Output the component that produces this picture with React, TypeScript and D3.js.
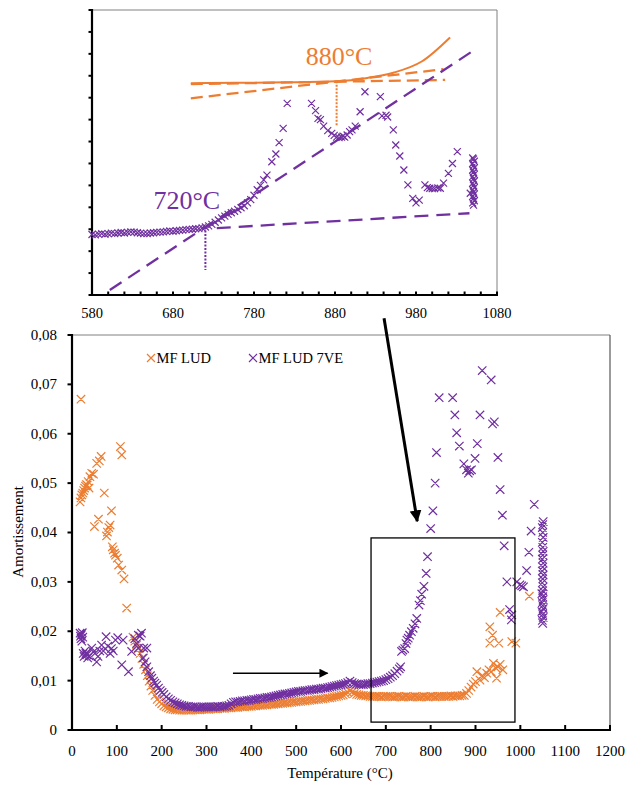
import React from "react";
import * as d3 from "d3";

// ---------- DATA ----------
const xTicks = [0, 100, 200, 300, 400, 500, 600, 700, 800, 900, 1000, 1100, 1200];
const yTicks = [0, 0.01, 0.02, 0.03, 0.04, 0.05, 0.06, 0.07, 0.08];
const yTickLabels = ["0", "0,01", "0,02", "0,03", "0,04", "0,05", "0,06", "0,07", "0,08"];
const insetXTicks = [580, 680, 780, 880, 980, 1080];
const insetMinorTicks = d3.range(580, 1081, 20);
const insetYTicks = d3.range(0, 14, 1);

const seriesNames = ["MF LUD", "MF LUD 7VE"];
const seriesColors = ["#ED7D31", "#7030A0"];

// MF LUD (orange) : [temperature, amortissement]
const ludPoints: [number, number][] = [
  [20, 0.067], [18, 0.0462], [20, 0.047], [22, 0.0476], [24, 0.048], [26, 0.0485], [28, 0.049], [30, 0.0494],
  [32, 0.0497], [34, 0.0496], [36, 0.0503], [38, 0.049], [40, 0.0513], [44, 0.052], [48, 0.0518], [50, 0.0412],
  [55, 0.054], [59, 0.0427], [61, 0.0545], [65, 0.0554], [72, 0.048], [77, 0.0393], [79, 0.0401], [82, 0.041],
  [85, 0.0415], [88, 0.0444], [90, 0.0371], [92, 0.0365], [95, 0.0358], [97, 0.0354], [101, 0.0348], [104, 0.0334],
  [108, 0.0574], [111, 0.0557], [111, 0.0324], [116, 0.0306], [122, 0.0247],
  [136, 0.0188], [140, 0.018], [144, 0.0172], [148, 0.0165], [152, 0.0155], [156, 0.0145], [160, 0.0133],
  [164, 0.0122], [168, 0.011], [172, 0.0099], [176, 0.0089], [180, 0.008], [185, 0.007], [190, 0.0062],
  [195, 0.0057], [200, 0.0053], [205, 0.0049], [210, 0.0047], [215, 0.0045], [220, 0.0043], [225, 0.0042],
  [230, 0.0041], [235, 0.0041], [240, 0.004], [245, 0.004], [250, 0.004], [255, 0.004], [260, 0.004],
  [265, 0.004], [270, 0.0041], [275, 0.0041], [280, 0.0041], [285, 0.0041], [290, 0.0042], [295, 0.0042],
  [300, 0.0042], [305, 0.0042], [310, 0.0043], [315, 0.0043], [320, 0.0043], [325, 0.0043], [330, 0.0044],
  [335, 0.0044], [340, 0.0044], [345, 0.0045], [350, 0.0045], [355, 0.0045], [360, 0.0046], [365, 0.0046],
  [370, 0.0046], [375, 0.0047], [380, 0.0047], [385, 0.0047], [390, 0.0048], [395, 0.0048], [400, 0.0048],
  [405, 0.0049], [410, 0.0049], [415, 0.005], [420, 0.005], [425, 0.005], [430, 0.0051], [435, 0.0051],
  [440, 0.0052], [445, 0.0052], [450, 0.0052], [455, 0.0053], [460, 0.0053], [465, 0.0054], [470, 0.0054],
  [475, 0.0055], [480, 0.0055], [485, 0.0056], [490, 0.0056], [495, 0.0057], [500, 0.0057], [505, 0.0058],
  [510, 0.0058], [515, 0.0059], [520, 0.0059], [525, 0.006], [530, 0.006], [535, 0.0061], [540, 0.0061],
  [545, 0.0062], [550, 0.0062], [555, 0.0063], [560, 0.0063], [565, 0.0064], [570, 0.0065], [575, 0.0065],
  [580, 0.0066], [585, 0.0067], [590, 0.0068], [595, 0.0069], [600, 0.007], [605, 0.0071], [610, 0.0073],
  [615, 0.0076], [620, 0.0079], [625, 0.0077], [630, 0.0074], [635, 0.0072], [640, 0.0071], [645, 0.007],
  [650, 0.007], [655, 0.0069], [660, 0.0069], [665, 0.0068], [670, 0.0068], [675, 0.0068], [680, 0.0068],
  [685, 0.0068], [690, 0.0067], [695, 0.0068], [700, 0.0068], [705, 0.0068], [710, 0.0068], [715, 0.0067],
  [720, 0.0067], [725, 0.0068], [730, 0.0068], [735, 0.0067], [740, 0.0067], [745, 0.0068], [750, 0.0067],
  [755, 0.0067], [760, 0.0067], [765, 0.0068], [770, 0.0067], [775, 0.0067], [780, 0.0067], [785, 0.0068],
  [790, 0.0067], [795, 0.0067], [800, 0.0068], [805, 0.0068], [810, 0.0067], [815, 0.0068], [820, 0.0068],
  [825, 0.0068], [830, 0.0068], [835, 0.0068], [840, 0.0068], [845, 0.0069], [850, 0.0068], [855, 0.0069],
  [860, 0.0069], [865, 0.0069], [870, 0.007], [875, 0.007], [880, 0.0074], [885, 0.008], [890, 0.0087],
  [895, 0.0093], [900, 0.0098], [903, 0.0118], [910, 0.0101], [915, 0.011], [920, 0.0106], [925, 0.0115],
  [930, 0.0122], [935, 0.0118], [940, 0.0135], [945, 0.0126], [947, 0.0105], [950, 0.0128], [955, 0.0133],
  [961, 0.0122],
  [932, 0.0209], [938, 0.0192], [932, 0.0176], [952, 0.0176], [955, 0.0238], [981, 0.0179], [990, 0.0176],
  [1020, 0.0271],
];

// MF LUD 7VE (purple)
const ve7Points: [number, number][] = [
  [18, 0.0196], [19, 0.019], [20, 0.0185], [21, 0.0193], [22, 0.018], [23, 0.0197], [24, 0.0188], [25, 0.0155],
  [27, 0.0149], [29, 0.016], [31, 0.0155], [33, 0.0152], [35, 0.0146], [38, 0.015], [44, 0.0166], [48, 0.0158],
  [51, 0.0155], [55, 0.0138], [58, 0.0149], [62, 0.016], [66, 0.0172], [70, 0.016], [76, 0.0189], [80, 0.017],
  [85, 0.0155], [88, 0.0165], [92, 0.016], [97, 0.0182], [102, 0.0187], [111, 0.0132], [114, 0.0182],
  [126, 0.0118], [133, 0.0159], [140, 0.0185], [144, 0.0175], [148, 0.0192], [152, 0.019], [155, 0.0196],
  [148, 0.0166], [160, 0.0166], [167, 0.0166],
  [159, 0.0146], [163, 0.0138], [167, 0.0128], [171, 0.0118], [175, 0.011], [178, 0.0105], [182, 0.0099],
  [185, 0.0095], [189, 0.0091], [193, 0.0085], [197, 0.008], [201, 0.0076], [205, 0.0072], [210, 0.0067],
  [215, 0.0063], [220, 0.006], [225, 0.0057], [230, 0.0055], [235, 0.0053], [240, 0.0051], [245, 0.005],
  [250, 0.0049], [255, 0.0048], [260, 0.0048], [265, 0.0047], [270, 0.0047], [275, 0.0047], [280, 0.0046],
  [285, 0.0046], [290, 0.0047], [295, 0.0047], [300, 0.0047], [305, 0.0047], [310, 0.0047], [315, 0.0047],
  [320, 0.0047], [325, 0.0048], [330, 0.0047], [335, 0.0048], [340, 0.0048], [345, 0.0049], [350, 0.005],
  [355, 0.0053], [360, 0.0056], [365, 0.0057], [370, 0.0057], [375, 0.0058], [380, 0.0059], [385, 0.0059],
  [390, 0.006], [395, 0.006], [400, 0.0061], [405, 0.0062], [410, 0.0062], [415, 0.0063], [420, 0.0064],
  [425, 0.0064], [430, 0.0065], [435, 0.0066], [440, 0.0066], [445, 0.0067], [450, 0.0068], [455, 0.0069],
  [460, 0.007], [465, 0.0071], [470, 0.0072], [475, 0.0073], [480, 0.0073], [485, 0.0074], [490, 0.0075],
  [495, 0.0076], [500, 0.0077], [505, 0.0078], [510, 0.0078], [515, 0.0079], [520, 0.008], [525, 0.008],
  [530, 0.0081], [535, 0.0082], [540, 0.0082], [545, 0.0083], [550, 0.0083], [555, 0.0084], [560, 0.0085],
  [565, 0.0085], [570, 0.0086], [575, 0.0087], [580, 0.0088], [585, 0.0089], [590, 0.009], [595, 0.0091],
  [600, 0.0092], [605, 0.0093], [610, 0.0094], [615, 0.0096], [620, 0.0099], [625, 0.0096], [630, 0.0094],
  [635, 0.0093], [640, 0.0092], [645, 0.0092], [650, 0.0092], [655, 0.0093], [660, 0.0094], [665, 0.0094],
  [670, 0.0095], [675, 0.0096], [680, 0.0097], [685, 0.0098], [690, 0.0099], [695, 0.01], [700, 0.0102],
  [705, 0.0104], [710, 0.0107], [715, 0.011], [720, 0.0114], [725, 0.0119], [730, 0.0124], [733, 0.0128],
  [735, 0.0159], [738, 0.0162], [742, 0.0165], [745, 0.0175], [747, 0.0182], [750, 0.0186], [753, 0.0192],
  [757, 0.0199], [761, 0.0206], [765, 0.0215], [769, 0.0226], [774, 0.0253], [777, 0.0262], [780, 0.0275],
  [785, 0.0291], [790, 0.0317], [793, 0.0351],
  [800, 0.0408], [805, 0.0444], [810, 0.05], [813, 0.0562], [819, 0.0673], [849, 0.0673], [854, 0.0638],
  [858, 0.0602], [864, 0.0575], [874, 0.0539], [880, 0.0527], [884, 0.052], [887, 0.0525], [891, 0.0527],
  [899, 0.055], [904, 0.058], [910, 0.0638], [915, 0.0728], [935, 0.0709], [938, 0.062], [942, 0.0624],
  [950, 0.0552], [955, 0.0487], [960, 0.0435], [964, 0.0373], [970, 0.03], [976, 0.0244], [981, 0.0233],
  [980, 0.0223], [992, 0.03], [999, 0.0294], [1003, 0.0292], [1007, 0.029], [1014, 0.0323], [1019, 0.036],
  [1024, 0.0403], [1031, 0.0457],
  [1050, 0.0216], [1049, 0.0222], [1051, 0.0228], [1050, 0.0234], [1048, 0.024], [1051, 0.0246], [1050, 0.0252],
  [1049, 0.0258], [1051, 0.0264], [1050, 0.027], [1048, 0.0276], [1050, 0.0282], [1051, 0.029], [1049, 0.0298],
  [1050, 0.0306], [1051, 0.0314], [1049, 0.0322], [1050, 0.033], [1051, 0.0338], [1049, 0.0346], [1050, 0.0354],
  [1051, 0.0362], [1050, 0.037], [1049, 0.038], [1051, 0.039], [1050, 0.04], [1049, 0.041], [1050, 0.0416],
  [1051, 0.0422],
];

// Inset (zoom on MF LUD 7VE, arbitrary units 0..13)
const insetPoints: [number, number][] = [
  [580, 2.76], [584, 2.74], [588, 2.78], [592, 2.8], [596, 2.77], [600, 2.8], [604, 2.82], [608, 2.8],
  [612, 2.83], [616, 2.85], [620, 2.83], [624, 2.86], [628, 2.88], [632, 2.87], [636, 2.84], [640, 2.82],
  [644, 2.8], [648, 2.8], [652, 2.83], [656, 2.84], [660, 2.86], [664, 2.87], [668, 2.88], [672, 2.9],
  [676, 2.92], [680, 2.9], [684, 2.93], [688, 2.95], [692, 2.96], [696, 2.98], [700, 2.99], [704, 3.0],
  [708, 3.02], [712, 3.03], [716, 3.06], [720, 3.1], [724, 3.15], [728, 3.22], [732, 3.32], [736, 3.42],
  [740, 3.52], [744, 3.6], [748, 3.68], [752, 3.75], [756, 3.82], [760, 3.9], [764, 3.98], [768, 4.07],
  [772, 4.2], [776, 4.35], [780, 4.55], [784, 4.8], [788, 5.0], [792, 5.25], [796, 5.47], [802, 6.08],
  [807, 6.43], [811, 6.95], [816, 7.6], [821, 8.74],
  [851, 8.74], [856, 8.41], [859, 8.06], [862, 8.0], [866, 7.7], [871, 7.5], [876, 7.37], [879, 7.28],
  [882, 7.2], [885, 7.18], [888, 7.2], [890, 7.25], [892, 7.2], [895, 7.3], [898, 7.45], [901, 7.53],
  [905, 7.7], [911, 8.36], [917, 9.27], [936, 9.05], [938, 8.17], [943, 8.2], [945, 8.12], [952, 7.53],
  [955, 6.84], [960, 6.34], [965, 5.7], [970, 5.02], [976, 4.41], [980, 4.2], [984, 4.33], [991, 5.02],
  [994, 4.9], [997, 4.87], [1000, 4.85], [1003, 4.85], [1007, 4.88], [1010, 4.87], [1014, 5.1], [1020, 5.55],
  [1025, 6.0], [1031, 6.54],
  [1047, 4.64], [1051, 4.1], [1050, 4.2], [1052, 4.3], [1051, 4.4], [1050, 4.5], [1052, 4.6], [1051, 4.7],
  [1050, 4.8], [1052, 4.9], [1051, 5.0], [1050, 5.1], [1052, 5.2], [1051, 5.3], [1050, 5.4], [1052, 5.5],
  [1051, 5.6], [1050, 5.7], [1052, 5.8], [1051, 5.9], [1050, 6.0], [1052, 6.1], [1051, 6.2], [1050, 6.25],
];

// Inset tangent / curve constructions
const insetOrangeCurve: [number, number][] = [
  [702, 9.66], [760, 9.68], [820, 9.7], [882, 9.75], [920, 9.9], [952, 10.14], [987, 10.65], [1022, 11.75],
];
const insetOrangeFlat: [number, number][] = [[702, 9.62], [1016, 9.81]];
const insetOrangeSlope: [number, number][] = [[702, 8.97], [1014, 10.3]];
const insetOrangeDrop: [number, number][] = [[882, 9.75], [882, 7.7]];
const insetPurpleSteep: [number, number][] = [[602, 0.23], [1053, 11.2]];
const insetPurpleFlat: [number, number][] = [[734, 3.05], [1046, 3.73]];
const insetPurpleDrop: [number, number][] = [[720, 3.1], [720, 1.14]];
const insetLabels = [
  { text: "880°C", t: 885, u: 10.5, color: "#ED7D31" },
  { text: "720°C", t: 697, u: 3.92, color: "#7030A0" },
];

// Annotations on the main chart (data coordinates)
const zoomBox = { t0: 667, t1: 988, v0: 0.0016, v1: 0.0389 };
const longArrow: [number, number][] = [[696, 0.0834], [770, 0.0423]];
const shortArrow: [number, number][] = [[359, 0.0115], [570, 0.0115]];

// ---------- COMPONENT ----------
const FONT = "'Times New Roman', 'Liberation Serif', serif";

function crossPath(x: number, y: number, r: number) {
  return `M${x - r},${y - r}L${x + r},${y + r}M${x - r},${y + r}L${x + r},${y - r}`;
}

export default function App() {
  const W = 627;
  const H = 785;

  const x = d3.scaleLinear().domain([0, 1200]).range([72, 610]);
  const y = d3.scaleLinear().domain([0, 0.08]).range([730, 335]);

  const xi = d3.scaleLinear().domain([580, 1080]).range([92, 497]);
  const yi = d3.scaleLinear().domain([0, 13]).range([295, 10]);

  const line = d3.line<[number, number]>().x((d) => x(d[0])).y((d) => y(d[1]));
  const lineI = d3.line<[number, number]>().x((d) => xi(d[0])).y((d) => yi(d[1]));
  const curveI = d3
    .line<[number, number]>()
    .x((d) => xi(d[0]))
    .y((d) => yi(d[1]))
    .curve(d3.curveMonotoneX);

  const ludPath = ludPoints.map((d) => crossPath(x(d[0]), y(d[1]), 4.2)).join("");
  const vePath = ve7Points.map((d) => crossPath(x(d[0]), y(d[1]), 4.2)).join("");
  const insetPath = insetPoints.map((d) => crossPath(xi(d[0]), yi(d[1]), 3.5)).join("");

  return (
    <svg
      width={W}
      height={H}
      style={{ position: "absolute", left: 0, top: 0, background: "#fff" }}
      fontFamily={FONT}
    >
      <defs>
        <marker id="headBig" viewBox="0 0 10 10" refX="9" refY="5" markerWidth="4" markerHeight="4" orient="auto" markerUnits="strokeWidth">
          <path d="M0,0L10,5L0,10Z" fill="#000" />
        </marker>
        <marker id="headSmall" viewBox="0 0 10 10" refX="9" refY="5" markerWidth="7" markerHeight="6" orient="auto" markerUnits="strokeWidth">
          <path d="M0,0L10,5L0,10Z" fill="#000" />
        </marker>
      </defs>
      <rect width={W} height={H} fill="#fff" />

      {/* ================= INSET ================= */}
      <g>
        <line x1={xi(580)} x2={xi(1080)} y1={yi(13)} y2={yi(13)} stroke="#808080" strokeWidth={1} />
        <line x1={xi(1080)} x2={xi(1080)} y1={yi(13)} y2={yi(0)} stroke="#808080" strokeWidth={1} />
        {insetMinorTicks.map((t) => (
          <line key={"imt" + t} x1={xi(t)} x2={xi(t)} y1={yi(0)} y2={yi(0) - 3.5} stroke="#000" strokeWidth={2} />
        ))}
        {insetYTicks.map((u) => (
          <line key={"iyt" + u} x1={xi(580) - 3.5} x2={xi(580)} y1={yi(u)} y2={yi(u)} stroke="#000" strokeWidth={2} />
        ))}
        <line x1={xi(580)} x2={xi(580)} y1={yi(13) - 1} y2={yi(0) + 1} stroke="#000" strokeWidth={2.2} />
        <line x1={xi(580) - 1} x2={xi(1080) + 1} y1={yi(0)} y2={yi(0)} stroke="#000" strokeWidth={2.2} />
        {insetXTicks.map((t) => (
          <text key={"ixl" + t} x={xi(t)} y={318} textAnchor="middle" fontSize={14.5} fill="#000">
            {t}
          </text>
        ))}

        <path d={curveI(insetOrangeCurve) || ""} fill="none" stroke="#ED7D31" strokeWidth={2} />
        <path d={lineI(insetOrangeFlat) || ""} fill="none" stroke="#ED7D31" strokeWidth={2.3} strokeDasharray="12 6" />
        <path d={lineI(insetOrangeSlope) || ""} fill="none" stroke="#ED7D31" strokeWidth={2.3} strokeDasharray="12 6" />
        <path d={lineI(insetOrangeDrop) || ""} fill="none" stroke="#ED7D31" strokeWidth={2} strokeDasharray="2 1.5" />

        <path d={lineI(insetPurpleSteep) || ""} fill="none" stroke="#7030A0" strokeWidth={2.3} strokeDasharray="14 8" />
        <path d={lineI(insetPurpleFlat) || ""} fill="none" stroke="#7030A0" strokeWidth={2.3} strokeDasharray="14 8" />
        <path d={lineI(insetPurpleDrop) || ""} fill="none" stroke="#7030A0" strokeWidth={2} strokeDasharray="2 1.5" />

        <path d={insetPath} fill="none" stroke="#7030A0" strokeWidth={1.2} />

        {insetLabels.map((l) => (
          <text key={l.text} x={xi(l.t)} y={yi(l.u)} textAnchor="middle" fontSize={26} fill={l.color}>
            {l.text}
          </text>
        ))}
      </g>

      {/* ================= MAIN ================= */}
      <g>
        <line x1={x(0)} x2={x(1200)} y1={y(0.08)} y2={y(0.08)} stroke="#808080" strokeWidth={1.2} />
        <line x1={x(1200)} x2={x(1200)} y1={y(0.08)} y2={y(0)} stroke="#595959" strokeWidth={1.2} />

        {xTicks.map((t) => (
          <g key={"xt" + t}>
            <line x1={x(t)} x2={x(t)} y1={y(0)} y2={y(0) - 5} stroke="#000" strokeWidth={2} />
            <text x={x(t)} y={756} textAnchor="middle" fontSize={15} fill="#000">
              {t}
            </text>
          </g>
        ))}
        {yTicks.map((v, i) => (
          <g key={"yt" + v}>
            <line x1={x(0) - 4.5} x2={x(0)} y1={y(v)} y2={y(v)} stroke="#000" strokeWidth={2} />
            <text x={57} y={y(v)} dy="0.33em" textAnchor="end" fontSize={15} fill="#000">
              {yTickLabels[i]}
            </text>
          </g>
        ))}
        <line x1={x(0)} x2={x(0)} y1={y(0.08) - 1} y2={y(0) + 1} stroke="#000" strokeWidth={2.2} />
        <line x1={x(0) - 1} x2={x(1200) + 1} y1={y(0)} y2={y(0)} stroke="#000" strokeWidth={2.2} />

        <text x={340} y={778} textAnchor="middle" fontSize={15} fill="#000">
          Température (°C)
        </text>
        <text transform="translate(23,532) rotate(-90)" textAnchor="middle" fontSize={15} fill="#000">
          Amortissement
        </text>

        <path d={ludPath} fill="none" stroke={seriesColors[0]} strokeWidth={1.2} />
        <path d={vePath} fill="none" stroke={seriesColors[1]} strokeWidth={1.2} />

        {seriesNames.map((name, i) => {
          const lx = i === 0 ? 151 : 253;
          return (
            <g key={name}>
              <path d={crossPath(lx, 358, 4)} stroke={seriesColors[i]} strokeWidth={1.2} fill="none" />
              <text x={lx + 5.5} y={363} fontSize={14.5} fill="#000">
                {name}
              </text>
            </g>
          );
        })}

        <rect
          x={x(zoomBox.t0)}
          y={y(zoomBox.v1)}
          width={x(zoomBox.t1) - x(zoomBox.t0)}
          height={y(zoomBox.v0) - y(zoomBox.v1)}
          fill="none"
          stroke="#000"
          strokeWidth={1.3}
        />

        <path d={line(longArrow) || ""} stroke="#000" strokeWidth={3} fill="none" markerEnd="url(#headBig)" />
        <path d={line(shortArrow) || ""} stroke="#000" strokeWidth={1.5} fill="none" markerEnd="url(#headSmall)" />
      </g>
    </svg>
  );
}
